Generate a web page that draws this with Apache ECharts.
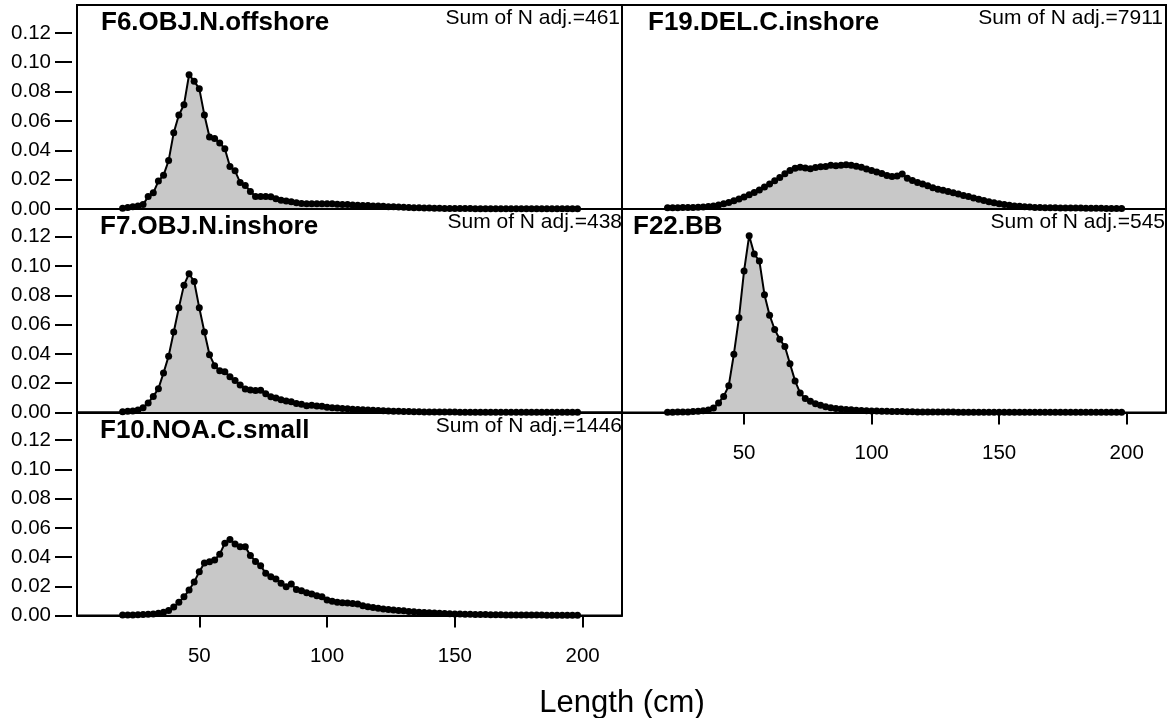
<!DOCTYPE html>
<html>
<head>
<meta charset="utf-8">
<script src="https://cdn.jsdelivr.net/npm/echarts@6/dist/echarts.min.js"></script>
<style>
html,body{margin:0;padding:0;background:#fff;}
#chart{width:1170px;height:718px;}
</style>
</head>
<body>
<div id="chart"></div>
<script>
// Length bins (cm)
var lengths = [20,22,24,26,28,30,32,34,36,38,40,42,44,46,48,50,52,54,56,58,60,62,64,66,68,70,72,74,76,78,80,82,84,86,88,90,92,94,96,98,100,102,104,106,108,110,112,114,116,118,120,122,124,126,128,130,132,134,136,138,140,142,144,146,148,150,152,154,156,158,160,162,164,166,168,170,172,174,176,178,180,182,184,186,188,190,192,194,196,198];

var f6 = [0.0005,0.001,0.0015,0.002,0.003,0.0085,0.011,0.019,0.023,0.033,0.052,0.064,0.071,0.0915,0.087,0.082,0.064,0.049,0.048,0.045,0.041,0.029,0.026,0.018,0.016,0.012,0.0085,0.0086,0.0086,0.0084,0.007,0.006,0.0055,0.005,0.0042,0.0038,0.0036,0.0035,0.0035,0.0036,0.0036,0.0035,0.0033,0.0031,0.003,0.0028,0.0026,0.0024,0.0023,0.0021,0.002,0.0018,0.0016,0.0015,0.0013,0.0012,0.001,0.0009,0.0008,0.0007,0.0006,0.0005,0.0005,0.0004,0.0004,0.0003,0.0003,0.0003,0.0003,0.0002,0.0002,0.0002,0.0002,0.0002,0.0002,0.0001,0.0001,0.0001,0.0001,0.0001,0.0001,0.0001,0.0001,0.0001,0.0001,0.0001,0.0001,0.0001,0.0001,0.0001];

var f7 = [0.0005,0.0008,0.001,0.0017,0.0033,0.0065,0.011,0.0163,0.027,0.0385,0.055,0.0715,0.087,0.0948,0.0895,0.0715,0.055,0.0395,0.032,0.0285,0.0278,0.0245,0.0218,0.0188,0.016,0.0153,0.015,0.0152,0.0128,0.0108,0.0099,0.0087,0.0078,0.0073,0.0062,0.0056,0.0046,0.0049,0.0044,0.0042,0.0036,0.0033,0.003,0.0028,0.0026,0.0023,0.0021,0.0019,0.0017,0.0015,0.0013,0.0012,0.001,0.0009,0.0008,0.0007,0.0006,0.0005,0.0005,0.0004,0.0004,0.0004,0.0003,0.0003,0.0003,0.0003,0.0002,0.0002,0.0002,0.0002,0.0002,0.0002,0.0001,0.0001,0.0001,0.0001,0.0001,0.0001,0.0001,0.0001,0.0001,0.0001,0.0001,0.0001,0.0001,0.0001,0.0001,0.0001,0.0001,0.0001];

var f10 = [0.0003,0.0003,0.0004,0.0005,0.0006,0.0008,0.001,0.0015,0.0022,0.0035,0.0058,0.009,0.0128,0.0174,0.023,0.030,0.036,0.0368,0.038,0.042,0.0495,0.052,0.049,0.047,0.047,0.041,0.037,0.034,0.029,0.0265,0.025,0.022,0.0197,0.0215,0.0178,0.017,0.0156,0.0147,0.0135,0.0128,0.0106,0.0097,0.009,0.0087,0.0085,0.0083,0.0078,0.0067,0.006,0.0055,0.005,0.0045,0.0041,0.0037,0.0035,0.0032,0.0028,0.0026,0.0023,0.0021,0.0019,0.0017,0.0015,0.0013,0.0012,0.0011,0.001,0.0009,0.0008,0.0007,0.0006,0.0006,0.0005,0.0005,0.0005,0.0004,0.0004,0.0004,0.0003,0.0003,0.0003,0.0003,0.0003,0.0002,0.0002,0.0002,0.0002,0.0002,0.0002,0.0002];

var f19 = [0.0008,0.0008,0.0009,0.001,0.001,0.0011,0.0012,0.0014,0.0017,0.0021,0.0027,0.0035,0.0045,0.0056,0.0068,0.0082,0.0097,0.0113,0.013,0.015,0.017,0.0192,0.0215,0.024,0.0262,0.0278,0.0285,0.028,0.0275,0.0282,0.0288,0.029,0.0298,0.0295,0.0298,0.0302,0.0298,0.0292,0.0285,0.0272,0.0262,0.0252,0.0242,0.0228,0.0222,0.0225,0.0238,0.021,0.0195,0.018,0.017,0.0158,0.0145,0.0135,0.0128,0.012,0.011,0.0102,0.0092,0.0085,0.0075,0.0066,0.0058,0.005,0.0042,0.0035,0.003,0.0025,0.0021,0.0018,0.0015,0.0013,0.0011,0.001,0.0009,0.0008,0.0008,0.0007,0.0007,0.0006,0.0006,0.0006,0.0005,0.0005,0.0005,0.0005,0.0004,0.0004,0.0004,0.0004];

var f22 = [0.0002,0.0002,0.0003,0.0003,0.0004,0.0006,0.0008,0.0012,0.0017,0.003,0.0065,0.011,0.0183,0.0398,0.0647,0.0967,0.1208,0.1082,0.1035,0.0805,0.0665,0.0567,0.050,0.0451,0.0333,0.0216,0.0133,0.0095,0.0076,0.006,0.005,0.004,0.0033,0.0028,0.0024,0.0021,0.0018,0.0016,0.0014,0.0012,0.0011,0.001,0.0009,0.0008,0.0007,0.0006,0.0006,0.0005,0.0005,0.0004,0.0004,0.0004,0.0003,0.0003,0.0003,0.0003,0.0003,0.0002,0.0002,0.0002,0.0002,0.0002,0.0002,0.0002,0.0002,0.0002,0.0001,0.0001,0.0001,0.0001,0.0001,0.0001,0.0001,0.0001,0.0001,0.0001,0.0001,0.0001,0.0001,0.0001,0.0001,0.0001,0.0001,0.0001,0.0001,0.0001,0.0001,0.0001,0.0001,0.0001];

var panelNames = ['F6.OBJ.N.offshore','F7.OBJ.N.inshore','F10.NOA.C.small','F19.DEL.C.inshore','F22.BB'];
var panelSums = ['Sum of N adj.=461','Sum of N adj.=438','Sum of N adj.=1446','Sum of N adj.=7911','Sum of N adj.=545'];
var panelValues = [f6, f7, f10, f19, f22];
var yTicks = [0, 0.02, 0.04, 0.06, 0.08, 0.10, 0.12];
var xTicks = [50, 100, 150, 200];
var xLabel = 'Length (cm)';

// layout: [left, top, width, height, showYaxis, showXaxis, titleX, sumRight]
var layout = [
  [77, 5, 545, 204, true, false, 101, 620],
  [77, 209, 545, 203.5, true, false, 100, 622],
  [77, 412.5, 545, 203, true, true, 100, 622],
  [622, 5, 544, 204, false, false, 648, 1163],
  [622, 209, 544, 203.5, false, true, 633, 1165]
];

var FONT = "'Liberation Sans', Arial, Helvetica, sans-serif";
var grids = [], xAxes = [], yAxes = [], series = [], graphics = [];
for (var i = 0; i < 5; i++) {
  var L = layout[i];
  grids.push({left: L[0], top: L[1], width: L[2], height: L[3], show: true, borderColor: '#000', borderWidth: 2, containLabel: false});
  xAxes.push({
    type: 'value', gridIndex: i, min: 2.15, max: 215.4, z: 5,
    axisLine: {show: true, onZero: false, lineStyle: {color: '#000', width: 2}},
    axisTick: {show: L[5], length: 12, lineStyle: {color: '#000', width: 2}, customValues: xTicks},
    axisLabel: {show: L[5], margin: 30, fontSize: 20.5, color: '#000', fontFamily: FONT, customValues: xTicks},
    splitLine: {show: false}
  });
  yAxes.push({
    type: 'value', gridIndex: i, min: 0, max: 0.139, offset: 5,
    axisLine: {show: false},
    axisTick: {show: L[4], length: 17, lineStyle: {color: '#000', width: 2}, customValues: yTicks},
    axisLabel: {show: L[4], margin: 21, fontSize: 20.5, color: '#000', fontFamily: FONT, customValues: yTicks,
      formatter: function (v) { return v.toFixed(2); }},
    splitLine: {show: false}
  });
  var vals = panelValues[i];
  series.push({
    type: 'line', xAxisIndex: i, yAxisIndex: i,
    data: lengths.map(function (x, k) { return [x, vals[k]]; }),
    symbol: 'circle', symbolSize: 7, showSymbol: true,
    itemStyle: {color: '#000'},
    lineStyle: {color: '#000', width: 2},
    areaStyle: {color: '#c8c8c8', opacity: 1},
    silent: true, animation: false, z: 2
  });
  graphics.push({type: 'text', left: L[6], top: L[1] + 5, z: 10,
    style: {text: panelNames[i], font: 'bold 26px ' + FONT, fill: '#000'}});
  graphics.push({type: 'text', x: L[7], y: L[1] + 13.5, z: 10,
    style: {text: panelSums[i], font: '21px ' + FONT, fill: '#000', textAlign: 'right', textVerticalAlign: 'middle'}});
}
graphics.push({type: 'text', x: 622, y: 703, z: 10,
  style: {text: xLabel, font: '31px ' + FONT, fill: '#000', textAlign: 'center', textVerticalAlign: 'middle'}});

var chart = echarts.init(document.getElementById('chart'), null, {renderer: 'canvas'});
chart.setOption({
  animation: false,
  backgroundColor: '#fff',
  grid: grids,
  xAxis: xAxes,
  yAxis: yAxes,
  series: series,
  graphic: graphics
});
</script>
</body>
</html>
